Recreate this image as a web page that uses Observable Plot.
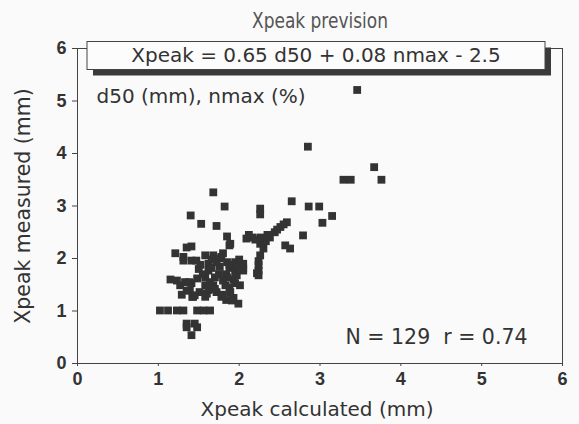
<!DOCTYPE html>
<html>
<head>
<meta charset="utf-8">
<script src="https://cdn.jsdelivr.net/npm/d3@7"></script>
<script src="https://cdn.jsdelivr.net/npm/@observablehq/plot@0.6"></script>
<style>
  html, body { margin: 0; padding: 0; background: #fafafa; }
</style>
</head>
<body>
<div id="chart"></div>
<script>
// ---- data ----
const xCalc = [
  3.46, 2.85, 3.67, 3.29, 3.38, 3.76, 1.68, 1.82, 2.26, 2.26,
  2.65, 2.86, 2.99, 3.15, 3.03, 2.79, 1.40, 1.53, 1.72, 1.85,
  1.88, 2.59, 2.51, 2.44, 2.38, 2.26, 2.16, 2.09, 2.26, 2.30,
  2.57, 2.63, 2.26, 2.24, 2.24, 2.24, 1.41, 1.35, 1.21, 1.31,
  1.41, 1.58, 1.68, 1.78, 1.62, 1.72, 1.85, 1.95, 2.05, 1.97,
  2.05, 1.62, 1.88, 2.05, 1.84, 1.95, 1.58, 1.70, 1.85, 1.23,
  1.15, 1.33, 1.41, 1.58, 1.68, 1.83, 2.01, 1.35, 1.51, 1.72,
  1.89, 1.43, 1.58, 1.78, 1.93, 1.99, 1.29, 1.60, 1.80, 1.91,
  1.02, 1.12, 1.23, 1.31, 1.48, 1.56, 1.64, 1.35, 1.45, 1.35,
  1.48, 1.41, 1.89, 1.31, 1.27, 1.39, 1.42, 1.66, 1.75, 1.50,
  1.52, 1.76, 1.80, 1.64, 1.93, 1.48, 1.70, 1.88, 1.97, 1.55,
  2.12, 2.20, 2.33, 2.35, 2.47, 2.55, 2.24, 2.22, 1.66, 1.47,
  1.80, 1.95, 1.62, 1.38, 1.76, 1.88, 2.00, 1.45, 1.84
];
const yMeas = [
  5.21, 4.13, 3.74, 3.50, 3.50, 3.50, 3.26, 2.99, 2.95, 2.84,
  3.09, 2.99, 2.99, 2.81, 2.68, 2.44, 2.82, 2.66, 2.62, 2.42,
  2.25, 2.69, 2.60, 2.50, 2.40, 2.40, 2.40, 2.38, 2.28, 2.19,
  2.25, 2.19, 2.06, 1.87, 1.77, 1.68, 2.23, 2.21, 2.10, 2.03,
  1.96, 2.06, 2.06, 2.03, 1.90, 1.93, 1.93, 1.93, 1.90, 1.84,
  1.81, 1.77, 1.82, 1.77, 1.70, 1.72, 1.64, 1.64, 1.64, 1.58,
  1.60, 1.55, 1.53, 1.49, 1.49, 1.49, 1.49, 1.39, 1.36, 1.36,
  1.36, 1.27, 1.27, 1.27, 1.25, 1.14, 1.31, 1.33, 1.31, 1.20,
  1.01, 1.01, 1.01, 1.01, 1.01, 1.01, 1.01, 0.76, 0.76, 0.69,
  0.69, 0.54, 2.28, 1.96, 1.49, 1.39, 1.27, 1.82, 1.70, 1.80,
  1.88, 1.84, 1.58, 1.55, 1.60, 1.62, 1.42, 1.45, 1.68, 1.70,
  2.45, 2.36, 2.33, 2.45, 2.55, 2.65, 1.95, 1.72, 1.98, 1.96,
  2.10, 1.53, 1.40, 1.55, 2.00, 1.88, 1.98, 1.30, 1.21
];
const xTicks = [0, 1, 2, 3, 4, 5, 6];
const yTicks = [0, 1, 2, 3, 4, 5, 6];
const titleText = "Xpeak prevision";
const formulaText = "Xpeak = 0.65 d50 + 0.08 nmax - 2.5";
const unitsText = "d50 (mm), nmax (%)";
const statsText = "N = 129  r = 0.74";
const xLabel = "Xpeak calculated (mm)";
const yLabel = "Xpeak measured (mm)";

const data = xCalc.map((x, i) => ({x, y: yMeas[i]}));

const labelFont = "DejaVu Sans, Verdana, sans-serif";

const plot = Plot.plot({
  width: 579,
  height: 424,
  marginLeft: 77,
  marginRight: 17,
  marginTop: 48,
  marginBottom: 61,
  style: {background: "#fafafa", fontFamily: "Liberation Sans, Arial, sans-serif", fontSize: "18px", color: "#333"},
  x: {domain: [0, 6], label: null},
  y: {domain: [0, 6], label: null},
  marks: [
    Plot.frame({stroke: "#444", strokeWidth: 1}),
    Plot.axisX({ticks: xTicks, tickFormat: d3.format("d"), tickSize: 3, tickPadding: 6, fontWeight: "bold", fill: "#333", stroke: "#444", label: null}),
    Plot.axisY({ticks: yTicks, tickFormat: d3.format("d"), tickSize: 5, tickPadding: 6, fontWeight: "bold", fill: "#333", stroke: "#444", label: null}),
    Plot.dot(data, {x: "x", y: "y", symbol: "square", r: 4.4, fill: "#333", stroke: "none"}),
    Plot.text([titleText], {text: d => d, frameAnchor: "top", dy: -27, lineAnchor: "middle",
      fontFamily: labelFont, fontSize: 21, fill: "#555", fontWeight: "normal"}),
    Plot.text([formulaText], {text: d => d, frameAnchor: "top", dx: -4, dy: 6.6, lineAnchor: "middle",
      fontFamily: labelFont, fontSize: 20, fill: "#333", fontWeight: "normal"}),
    Plot.text([unitsText], {text: d => d, frameAnchor: "top-left", textAnchor: "start", dx: 19, dy: 47.6, lineAnchor: "middle",
      fontFamily: labelFont, fontSize: 20, fill: "#333", fontWeight: "normal"}),
    Plot.text([statsText], {text: d => d, frameAnchor: "bottom-right", textAnchor: "end", dx: -35, dy: -25.7, lineAnchor: "middle",
      fontFamily: labelFont, fontSize: 20.5, fill: "#333", fontWeight: "normal"}),
    Plot.text([xLabel], {text: d => d, frameAnchor: "bottom", dx: -3, dy: 45.6, lineAnchor: "middle",
      fontFamily: labelFont, fontSize: 20, fill: "#333", fontWeight: "normal"}),
    Plot.text([yLabel], {text: d => d, frameAnchor: "left", textAnchor: "middle", dx: -54, dy: 0, rotate: -90, lineAnchor: "middle",
      fontFamily: labelFont, fontSize: 20.5, fill: "#333", fontWeight: "normal"})
  ]
});

document.getElementById("chart").appendChild(plot);

const texts = Array.from(plot.querySelectorAll("text"));
// Formula box with drop shadow, sized from the rendered text
const ft = texts.find(t => t.textContent === formulaText);
if (ft) {
  const r = ft.getBoundingClientRect();
  const s = plot.getBoundingClientRect();
  const cx = r.left - s.left + r.width / 2;
  const top = r.top - s.top - 1;
  const w = 458, h = 28;
  const parentG = ft.parentNode;
  const gEl = document.createElementNS("http://www.w3.org/2000/svg", "g");
  parentG.parentNode.insertBefore(gEl, parentG);
  const box = d3.select(gEl);
  box.append("rect").attr("x", cx - w / 2 + 6).attr("y", top + 6).attr("width", w).attr("height", h).attr("fill", "#3a3a3a");
  box.append("rect").attr("x", cx - w / 2).attr("y", top).attr("width", w).attr("height", h)
    .attr("fill", "#fcfcfc").attr("stroke", "#444").attr("stroke-width", 1);
}
const tt = texts.find(t => t.textContent === titleText);
if (tt) { tt.setAttribute("textLength", 136); tt.setAttribute("lengthAdjust", "spacingAndGlyphs"); }
</script>
</body>
</html>
